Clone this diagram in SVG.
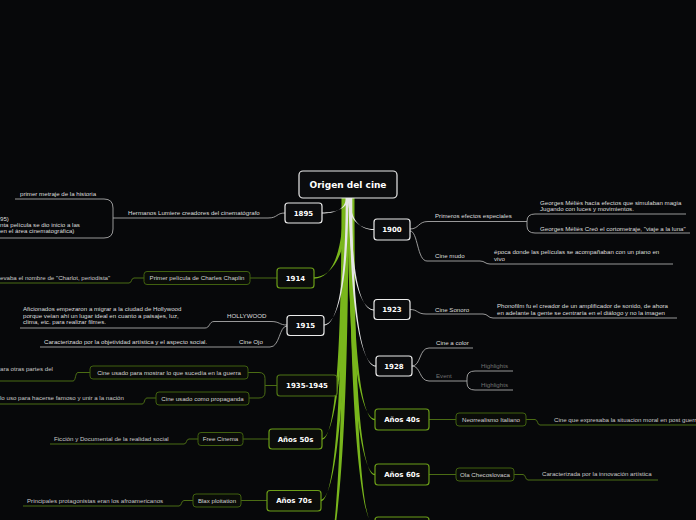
<svg xmlns="http://www.w3.org/2000/svg" width="696" height="520" viewBox="0 0 696 520">
<style>
.bg{fill:#07080a}
.wb{fill:#e6e6e6}
.gb{fill:#79b61c}
.wl{fill:none;stroke:#a9a9a9;stroke-width:0.9}
.gl{fill:none;stroke:#4b6c14;stroke-width:1}
.nw{fill:#0b0c0e;stroke:#ececec;stroke-width:1.2}
.ng{fill:#0b0c0a;stroke:#6b9d18;stroke-width:1.2}
.nd{fill:#0b0c0a;stroke:#4f7515;stroke-width:1.2}
.sb{fill:#0a0c08;stroke:#40600f;stroke-width:1}
.nt{font-family:"DejaVu Sans",sans-serif;font-weight:bold;font-size:7px;fill:#ffffff;text-anchor:middle}
.rt{font-family:"DejaVu Sans",sans-serif;font-weight:bold;font-size:9px;fill:#ffffff;text-anchor:middle}
.t{font-family:"Liberation Sans",Arial,sans-serif;font-size:6.15px;fill:#dedede}
.tg{font-family:"Liberation Sans",Arial,sans-serif;font-size:6.15px;fill:#c9c9c9}
.tc{font-family:"Liberation Sans",Arial,sans-serif;font-size:6.15px;fill:#d2d2d2;text-anchor:middle}
.tq{font-family:"Liberation Sans",Arial,sans-serif;font-size:6.15px;fill:#707070}
</style>
<rect class="bg" x="0" y="0" width="696" height="520"/>
<g id="connectors">
<path class="gb" d="M343.5,198 C343.5,258 330,278.7 314,278.7 L314,277.3 C330,277.3 348.5,258 348.5,198 Z"/>
<path class="gb" d="M342.5,198 C342.5,338.6 341,386.2 337,386.2 L337,384.8 C341,384.8 347.5,338.6 347.5,198 Z"/>
<path class="gb" d="M341.5,198 C341.5,378.75 333,439.7 322,439.7 L322,438.3 C333,438.3 346.5,378.75 346.5,198 Z"/>
<path class="gb" d="M342.5,198 C342.5,424.9 333,501.2 321,501.2 L321,499.8 C333,499.8 347.5,424.9 347.5,198 Z"/>
<path class="gb" d="M343.5,198 C343.5,477 334,570.7 322,570.7 L322,569.3 C334,569.3 348.5,477 348.5,198 Z"/>
<path class="gb" d="M352.5,198 C352.5,364 362.5,420.2 375,420.2 L375,418.8 C362.5,418.8 347.5,364 347.5,198 Z"/>
<path class="gb" d="M353.5,198 C353.5,405.4 363,475.2 375,475.2 L375,473.8 C363,473.8 348.5,405.4 348.5,198 Z"/>
<path class="gb" d="M354.5,198 C354.5,445 363.5,528.2 375,528.2 L375,526.8 C363.5,526.8 349.5,445 349.5,198 Z"/>
<path class="wb" d="M345.8,198 C345.8,209.25 334.5,213.5 322,213.5 L322,212.5 C334.5,212.5 348.2,209.25 348.2,198 Z"/>
<path class="wb" d="M350.2,198 C350.2,221.6 361.5,230 374,230 L374,229 C361.5,229 347.8,221.6 347.8,198 Z"/>
<path class="wb" d="M345.7,198 C345.7,293.25 335.5,325.5 324,325.5 L324,324.5 C335.5,324.5 348.3,293.25 348.3,198 Z"/>
<path class="wb" d="M351.3,198 C351.3,282 362,310.5 374,310.5 L374,309.5 C362,309.5 348.7,282 348.7,198 Z"/>
<path class="wb" d="M352.3,198 C352.3,324 363.5,366.5 376,366.5 L376,365.5 C363.5,365.5 349.7,324 349.7,198 Z"/>
<path class="wl" d="M285,213 C276,213 278,218 268,218 L113,218"/>
<path class="wl" d="M15,199 L104,199 Q113,199 113,208 L113,229 Q113,238 104,238 L0,238"/>
<path class="wl" d="M410,229 C419,229 418,221.5 428,221.5 L527,221.5"/>
<path class="wl" d="M686,214 L535,214 Q527,214 527,221 L527,226 Q527,233 535,233 L690,233"/>
<path class="wl" d="M410,231 C418,231 417,261 427,261 L480,261 C485,261 485,264 490,264 L673,264"/>
<path class="wl" d="M410,309.5 C418,309.5 417,314 426,314 L483,314 C488,314 488,318 493,318 L677,318"/>
<path class="wl" d="M412,366 C421,366 419,348 429,348 L473,348"/>
<path class="wl" d="M412,366 C421,366 419,381 429,381 L467,381"/>
<path class="wl" d="M513,371 L475,371 Q467,371 467,378 L467,383 Q467,390 475,390 L513,390"/>
<path class="wl" d="M287,325 C279,325 280,321.5 271,321.5 L214,321.5 C209,321.5 210,328 205,328 L20,328"/>
<path class="wl" d="M287,326 C279,326 280,347 270,347 L40,347"/>
<path class="gl" d="M277,278 L250,278"/>
<path class="gl" d="M144,278 L134,278 C131,278 132,283 129,283 L0,283"/>
<path class="gl" d="M277,385.5 L265,385.5"/>
<path class="gl" d="M248,372.5 L259,372.5 Q265,372.5 265,378.5 L265,392 Q265,398 259,398 L249,398"/>
<path class="gl" d="M90,372.5 L78,372.5 C75,372.5 76,381 73,381 L0,381"/>
<path class="gl" d="M156,398 L147,398 C144,398 145,404 142,404 L0,404"/>
<path class="gl" d="M269,439 L243,439"/>
<path class="gl" d="M198,439 L189,439 C186,439 187,444 184,444 L50,444"/>
<path class="gl" d="M267,500.5 L241,500.5"/>
<path class="gl" d="M193,500.5 L184,500.5 C181,500.5 182,506 179,506 L23,506"/>
<path class="gl" d="M429,419.5 L456,419.5"/>
<path class="gl" d="M526,419.5 L535,419.5 C538,419.5 537,425 540,425 L696,425"/>
<path class="gl" d="M429,474.5 L456,474.5"/>
<path class="gl" d="M514,474.5 L523,474.5 C526,474.5 525,480 528,480 L658,480"/>
</g>
<g id="root"><rect class="nw" x="299" y="171" width="98" height="27" rx="4"/><text class="rt" x="348" y="188">Origen del cine</text></g>
<g id="n1895"><rect class="nw" x="285" y="203" width="37" height="20" rx="3"/><text class="nt" x="303.5" y="215.5">1895</text>
<text class="t" x="20" y="196">primer metraje de la historia</text>
<text class="t" x="128" y="215">Hermanos Lumiere creadores del cinematógrafo</text>
<text class="t" x="0" y="221">95)</text>
<text class="t" x="0" y="227">nta película se dio inicio a las</text>
<text class="t" x="0" y="233">en el área cinematográfica)</text></g>
<g id="n1900"><rect class="nw" x="374" y="219" width="36" height="21" rx="3"/><text class="nt" x="392" y="232">1900</text>
<text class="t" x="435" y="218">Primeros efectos especiales</text>
<text class="t" x="540" y="205">Georges Méliès hacía efectos que simulaban magia</text>
<text class="t" x="540" y="211">Jugando con luces y movimientos.</text>
<text class="t" x="540" y="231">Georges Méliès Creó el cortometraje, "viaje a la luna"</text>
<text class="t" x="435" y="258">Cine mudo</text>
<text class="t" x="494" y="254">época donde las películas se acompañaban con un piano en</text>
<text class="t" x="494" y="261">vivo</text></g>
<g id="n1914"><rect class="ng" x="277" y="268" width="37" height="20" rx="3"/><text class="nt" x="295.5" y="280.5">1914</text>
<rect class="sb" x="144" y="271.5" width="106" height="13" rx="3"/><text class="tc" x="197" y="280">Primer película de Charles Chaplin</text>
<text class="tg" x="0" y="280">evaba el nombre de "Charlot, periodista"</text></g>
<g id="n1915"><rect class="nw" x="287" y="315.5" width="37" height="20" rx="3"/><text class="nt" x="305.5" y="328">1915</text>
<text class="t" x="227" y="318">HOLLYWOOD</text>
<text class="t" x="23" y="311">Aficionados empezaron a migrar a la ciudad de Hollywood</text>
<text class="t" x="23" y="317.5">porque veían ahí un lugar ideal en cuanto a paisajes, luz,</text>
<text class="t" x="23" y="324">clima, etc. para realizar filmes.</text>
<text class="t" x="239" y="343.5">Cine Ojo</text>
<text class="t" x="44" y="343.5">Caracterizado por la objetividad artística y el aspecto social.</text></g>
<g id="n1923"><rect class="nw" x="374" y="299.5" width="36" height="20" rx="3"/><text class="nt" x="392" y="312">1923</text>
<text class="t" x="435" y="312">Cine Sonoro</text>
<text class="t" x="497" y="308">Phonofilm fu el creador de un amplificador de sonido, de ahora</text>
<text class="t" x="497" y="315">en adelante la gente se centraría en el diálogo y no la imagen</text></g>
<g id="n1928"><rect class="nw" x="376" y="356" width="36" height="20" rx="3"/><text class="nt" x="394" y="368.5">1928</text>
<text class="t" x="436" y="344.5">Cine a color</text>
<text class="tq" x="436" y="378">Event</text>
<text class="tq" x="481" y="368">Highlights</text>
<text class="tq" x="481" y="387">Highlights</text></g>
<g id="n1935"><rect class="nd" x="277" y="375" width="60" height="21" rx="3"/><text class="nt" x="307" y="388">1935-1945</text>
<rect class="sb" x="90" y="366" width="158" height="13" rx="3"/><text class="tc" x="169" y="374.5">Cine usado para mostrar lo que sucedía en la guerra</text>
<rect class="sb" x="156" y="392" width="93" height="13" rx="3"/><text class="tc" x="202.5" y="400.5">Cine usado como propaganda</text>
<text class="tg" x="0" y="371">ara otras partes del</text>
<text class="tg" x="0" y="400">lo uso para hacerse famoso y unir a la nación</text></g>
<g id="n50s"><rect class="ng" x="269" y="429" width="53" height="20" rx="3"/><text class="nt" x="295.5" y="441.5">Años 50s</text>
<rect class="sb" x="198" y="432.5" width="45" height="13" rx="3"/><text class="tc" x="220.5" y="441">Free Cinema</text>
<text class="tg" x="54" y="441">Ficción y Documental de la realidad social</text></g>
<g id="n70s"><rect class="ng" x="267" y="490.5" width="54" height="20.5" rx="3"/><text class="nt" x="294" y="503">Años 70s</text>
<rect class="sb" x="193" y="494" width="48" height="13" rx="3"/><text class="tc" x="217" y="502.5">Blax ploitation</text>
<text class="tg" x="27" y="503">Principales protagonistas eran los afroamericanos</text></g>
<g id="n40s"><rect class="ng" x="375" y="409" width="54" height="21" rx="3"/><text class="nt" x="402" y="422">Años 40s</text>
<rect class="sb" x="456" y="413" width="70" height="13" rx="3"/><text class="tc" x="491" y="421.5">Neorrealismo Italiano</text>
<text class="tg" x="554" y="422">Cine que expresaba la situacion moral en post guerra</text></g>
<g id="n60s"><rect class="ng" x="375" y="464" width="54" height="21" rx="3"/><text class="nt" x="402" y="477">Años 60s</text>
<rect class="sb" x="456" y="468" width="58" height="13" rx="3"/><text class="tc" x="485" y="476.5">Ola Checoslovaca</text>
<text class="tg" x="542" y="476">Caracterizada por la innovación artística</text></g>
<g id="nbottom"><rect class="ng" x="375" y="517" width="54" height="21" rx="3"/></g>
</svg>
